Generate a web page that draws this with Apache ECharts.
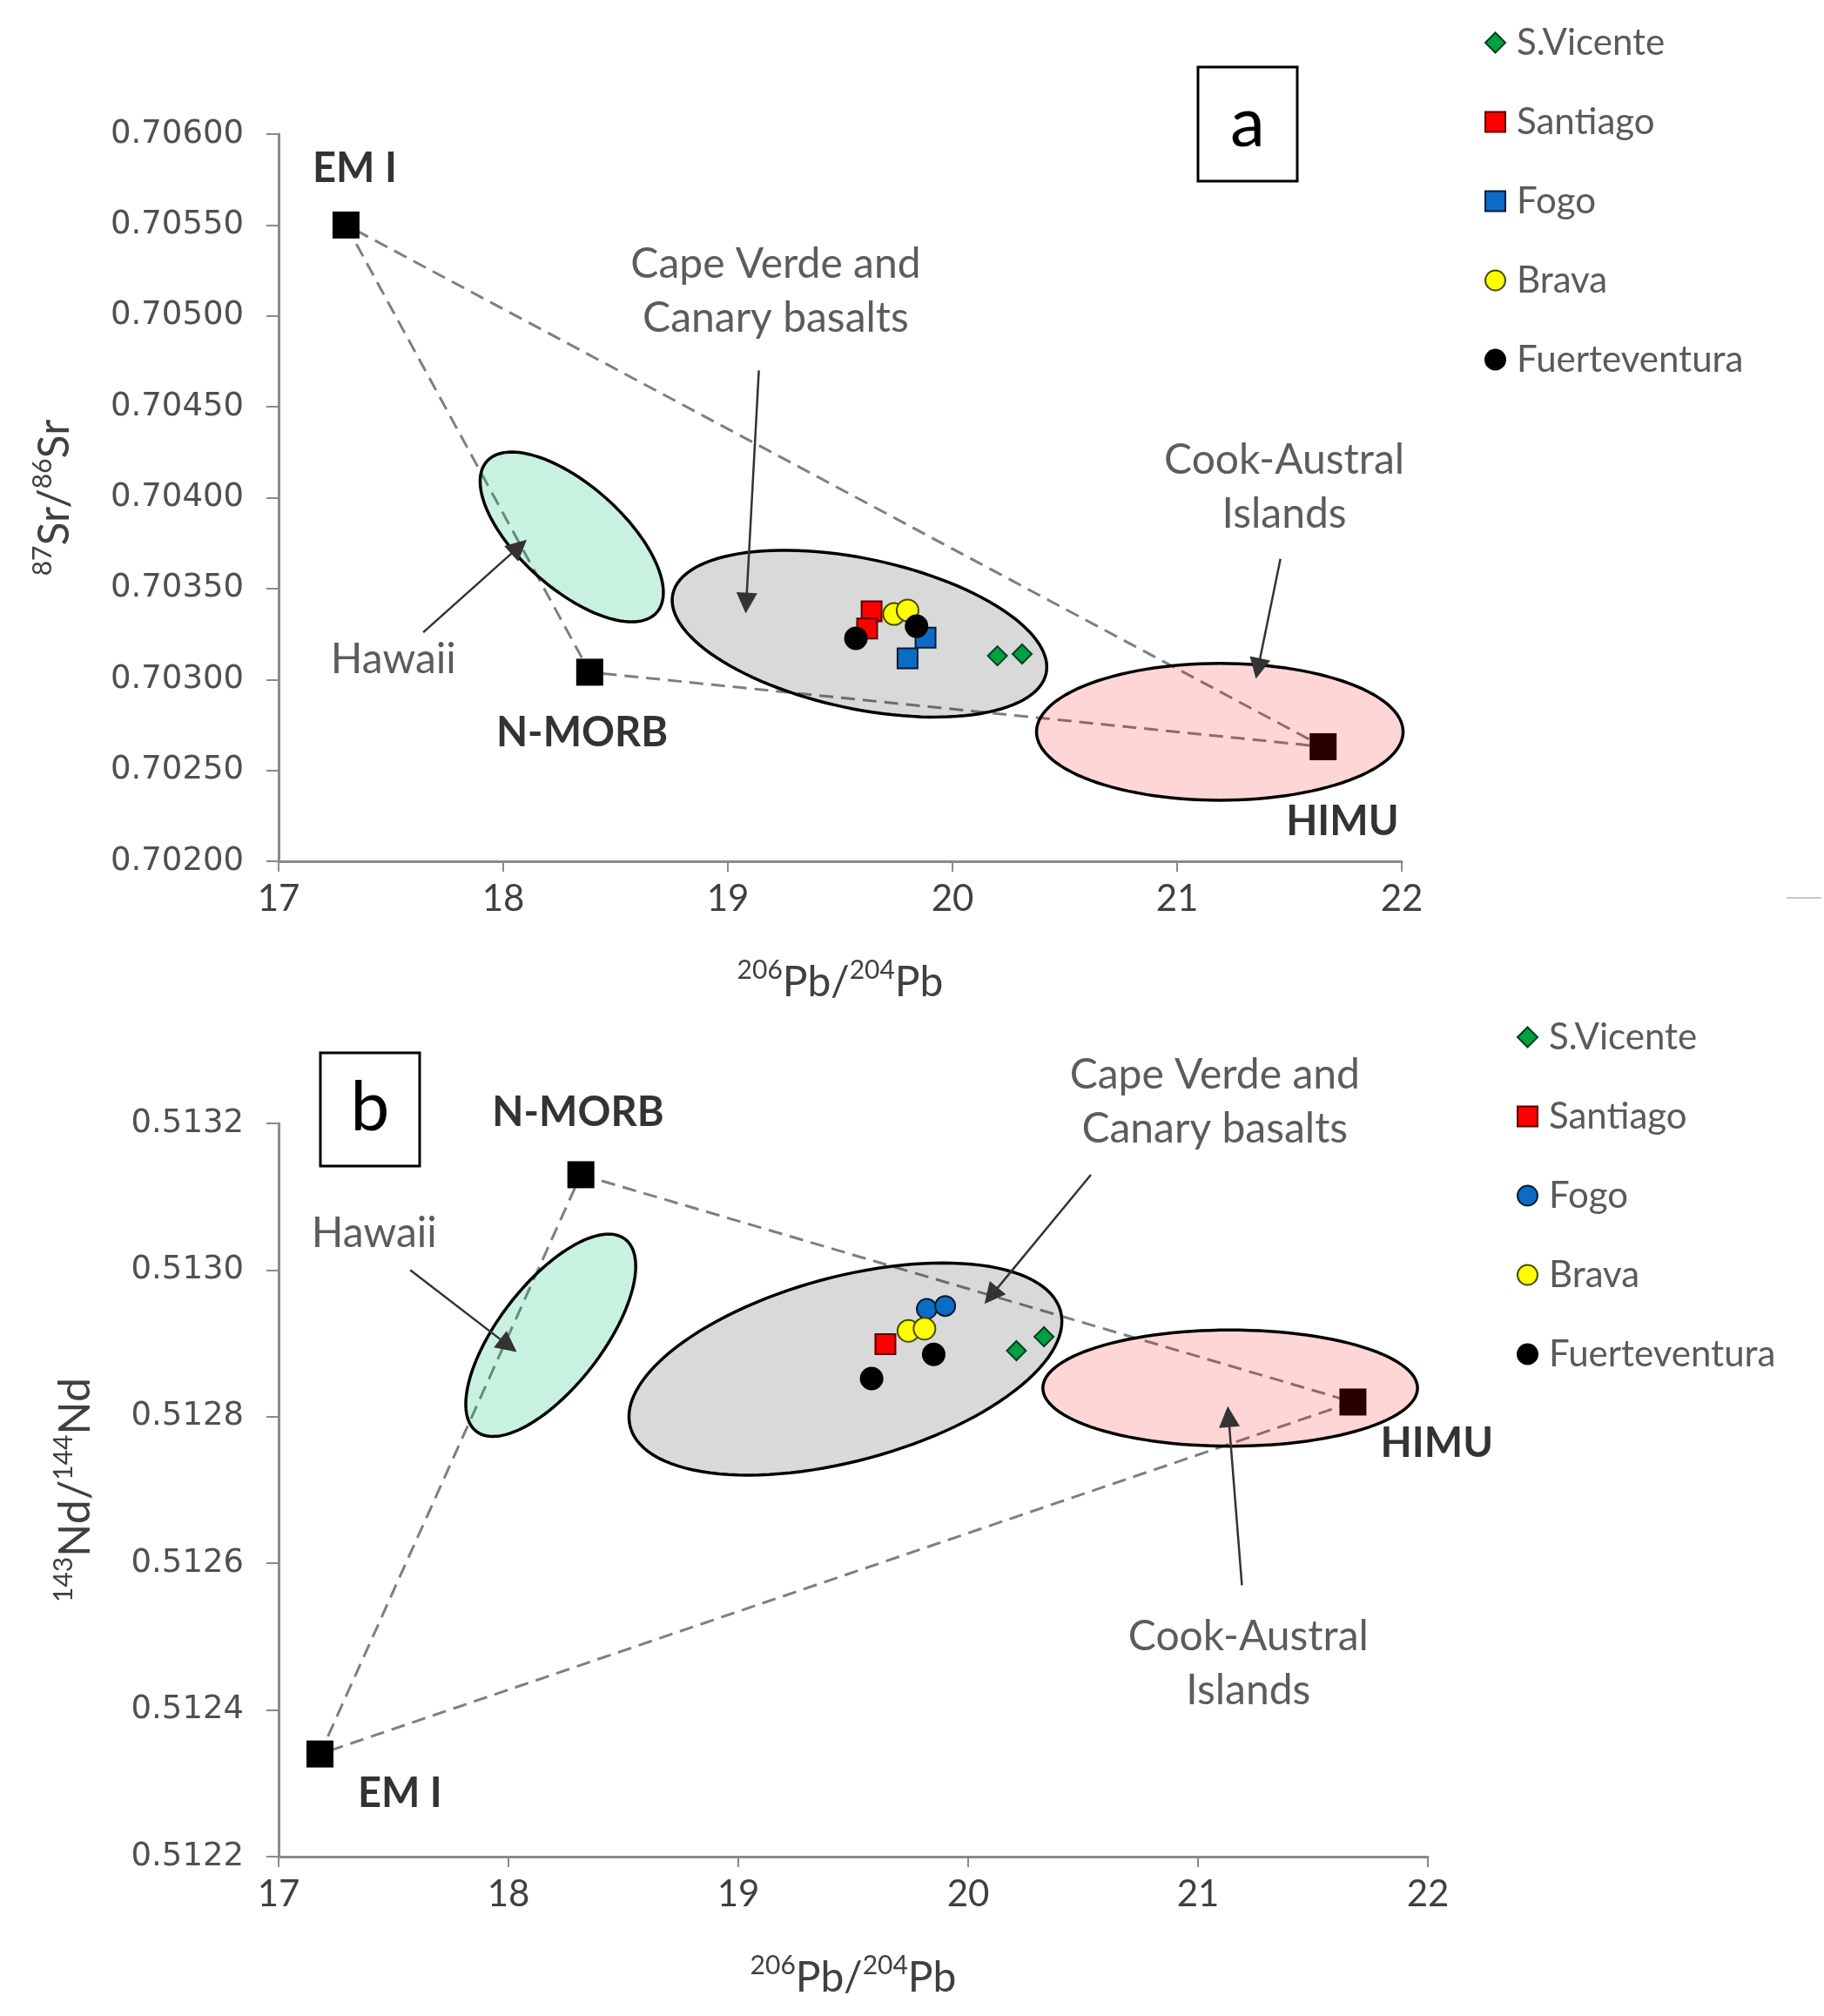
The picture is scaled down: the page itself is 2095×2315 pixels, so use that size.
<!DOCTYPE html>
<html><head><meta charset="utf-8">
<script src="https://cdn.jsdelivr.net/npm/echarts@6/dist/echarts.min.js"></script>
<style>html,body{margin:0;padding:0;background:#fff}#c{width:2095px;height:2315px}</style>
</head><body><div id="c"></div>
<script>
// ---------- axis ranges ----------
const pbRange = [17, 22];           const pbStep = 1;
const srRange = [0.702, 0.706];     const srStep = 0.0005;
const ndRange = [0.5122, 0.5132];   const ndStep = 0.0002;

const sampleNames = ['S.Vicente', 'Santiago', 'Fogo', 'Brava', 'Fuerteventura'];

// ---------- panel a: 87Sr/86Sr vs 206Pb/204Pb ----------
const srSVicente = [[20.20, 0.70313], [20.31, 0.70314]];
const srSantiago = [[19.64, 0.703375], [19.62, 0.70328]];
const srFogo = [[19.88, 0.70323], [19.80, 0.703116]];
const srBrava = [[19.74, 0.70336], [19.80, 0.70338]];
const srFuerteventura = [[19.57, 0.703226], [19.84, 0.703293]];
const srEndNames = ['EM I', 'N-MORB', 'HIMU'];
const srEndValues = [[17.30, 0.70550], [18.385, 0.70304], [21.65, 0.70263]];
// ellipse: [centerX, centerY, majorTipX, majorTipY, minor/major]
const srFields = [[18.305, 0.703784, 17.927, 0.704200, 0.455],
                  [19.586, 0.703252, 20.417, 0.703034, 0.393],
                  [21.190, 0.702712, 22.006, 0.702712, 0.373]];
const srBoldLabels = [['EM I', 17.339, 0.705808], ['N-MORB', 18.351, 0.702705], ['HIMU', 21.736, 0.702215]];
const srNotes = [['Cape Verde and\nCanary basalts', 19.213, 0.705134], ['Hawaii', 17.511, 0.703109], ['Cook-Austral\nIslands', 21.477, 0.704058]];
const srArrows = [[[19.138, 0.70470], [19.082, 0.70342]], [[17.644, 0.703259], [18.07, 0.70373]], [[21.46, 0.703663], [21.36, 0.70306]]];

// ---------- panel b: 143Nd/144Nd vs 206Pb/204Pb ----------
const ndSVicente = [[20.21, 0.51289], [20.33, 0.512909]];
const ndSantiago = [[19.64, 0.512899]];
const ndFogo = [[19.82, 0.512947], [19.90, 0.512951]];
const ndBrava = [[19.74, 0.512917], [19.81, 0.51292]];
const ndFuerteventura = [[19.85, 0.512885], [19.58, 0.512852]];
const ndEndNames = ['N-MORB', 'HIMU', 'EM I'];
const ndEndValues = [[18.315, 0.51313], [21.674, 0.51282], [17.18, 0.51234]];
const ndFields = [[18.184, 0.512911, 18.508, 0.513042, 0.426],
                  [19.466, 0.512865, 20.402, 0.512944, 0.413],
                  [21.140, 0.512839, 21.955, 0.512839, 0.31]];
const ndBoldLabels = [['N-MORB', 18.303, 0.513214], ['HIMU', 22.039, 0.512763], ['EM I', 17.528, 0.512286]];
const ndNotes = [['Hawaii', 17.416, 0.51305], ['Cape Verde and\nCanary basalts', 21.073, 0.513229], ['Cook-Austral\nIslands', 21.219, 0.512463]];
const ndArrows = [[[17.573, 0.513], [18.00, 0.512897]], [[20.534, 0.51313], [20.10, 0.512965]], [[21.191, 0.51257], [21.133, 0.512800]]];

// ---------- styles ----------
const fieldFills = ['rgba(0,190,111,0.216)', 'rgba(0,0,0,0.15)', 'rgba(255,0,0,0.16)'];
const markerStyle = {
  'S.Vicente': {color: '#00a043', border: '#00401c', symbol: 'diamond', size: 22},
  'Santiago': {color: '#ff0000', border: '#5a0000', symbol: 'rect', size: 23},
  'Fogo': {color: '#0a6cc4', border: '#0a1a33', symbol: 'rect', size: 23},
  'Brava': {color: '#ffff00', border: '#4a4a00', symbol: 'circle', size: 25},
  'Fuerteventura': {color: '#000000', border: '#000000', symbol: 'circle', size: 25}
};
const FONT = 'Lato, "Open Sans", sans-serif';

function sampleSeries(name, data, g, symbolOverride) {
  const st = markerStyle[name];
  return {
    type: 'scatter', name: name, xAxisIndex: g, yAxisIndex: g, z: 4,
    symbol: symbolOverride || st.symbol, symbolSize: st.size,
    itemStyle: {color: st.color, borderColor: st.border, borderWidth: 2, opacity: 1},
    data: data
  };
}
function fieldSeries(fields, g) {
  return {
    type: 'custom', name: 'fields' + g, xAxisIndex: g, yAxisIndex: g, z: 3,
    encode: {x: [0, 2], y: [1, 3]},
    data: fields,
    renderItem: function (params, api) {
      const c = api.coord([api.value(0), api.value(1)]);
      const t = api.coord([api.value(2), api.value(3)]);
      const dx = t[0] - c[0], dy = t[1] - c[1];
      const a = Math.sqrt(dx * dx + dy * dy);
      const ux = dx / a, uy = dy / a;
      const b = a * api.value(4);
      const pts = [];
      for (let k = 0; k < 120; k++) {
        const f = k / 120 * Math.PI * 2;
        const ca = Math.cos(f) * a, sb = Math.sin(f) * b;
        pts.push([c[0] + ca * ux - sb * uy, c[1] + ca * uy + sb * ux]);
      }
      return {type: 'polygon', shape: {points: pts},
        style: {fill: fieldFills[params.dataIndex], stroke: '#000', lineWidth: 3.5}};
    }
  };
}
function mixingSeries(values, g) {
  return {
    type: 'line', name: 'mix' + g, xAxisIndex: g, yAxisIndex: g, z: 1,
    symbol: 'none', silent: true,
    lineStyle: {color: '#7f7f7f', width: 3, type: [16, 9]},
    data: values.concat([values[0]])
  };
}
function endSeries(names, values, g) {
  return {
    type: 'scatter', name: 'end' + g, xAxisIndex: g, yAxisIndex: g, z: 2,
    symbol: 'rect', symbolSize: 31, itemStyle: {color: '#000', opacity: 1},
    data: values.map((v, i) => ({name: names[i], value: v}))
  };
}
function labelSeries(bold, notes, g) {
  const items = bold.map(d => ({name: d[0], value: [d[1], d[2]],
      label: {fontWeight: 'bold', fontSize: 47, color: '#000'}}))
    .concat(notes.map(d => ({name: d[0], value: [d[1], d[2]],
      label: {fontSize: 48, lineHeight: 62, color: '#333'}})));
  return {
    type: 'scatter', name: 'labels' + g, xAxisIndex: g, yAxisIndex: g, z: 6,
    clip: false, silent: true, symbolSize: 1, itemStyle: {color: 'rgba(0,0,0,0)'},
    label: {show: true, position: 'inside', formatter: '{b}', fontFamily: FONT, align: 'center'},
    data: items
  };
}
function arrowSeries(arrows, g) {
  return {
    type: 'line', name: 'arrows' + g, xAxisIndex: g, yAxisIndex: g, z: 6,
    data: [], symbol: 'none', silent: true,
    itemStyle: {color: '#111'}, lineStyle: {color: '#333'},
    markLine: {
      silent: true, animation: false, z: 6, precision: 6,
      symbol: ['none', 'triangle'], symbolSize: 24,
      itemStyle: {color: '#111'},
      lineStyle: {color: '#333', width: 2.5, type: 'solid'},
      label: {show: false},
      emphasis: {disabled: true},
      data: arrows.map(a => [{coord: a[0], symbol: 'none'}, {coord: a[1], symbol: 'triangle', symbolSize: 24}])
    }
  };
}
function xAxisDef(g) {
  return {
    type: 'value', gridIndex: g, min: pbRange[0], max: pbRange[1], interval: pbStep,
    splitLine: {show: false},
    axisLine: {lineStyle: {color: '#8a8a8a', width: 3}},
    axisTick: {length: 12, lineStyle: {color: '#8a8a8a', width: 2}},
    axisLabel: {fontFamily: FONT, fontSize: 42, color: '#404040', margin: 22},
    name: '{sup|206}{b|Pb/}{sup|204}{b|Pb}', nameLocation: 'middle', nameGap: 110,
    nameTextStyle: {rich: {
      sup: {fontFamily: FONT, fontSize: 30, color: '#404040', verticalAlign: 'top', lineHeight: 30},
      b: {fontFamily: FONT, fontSize: 48, color: '#404040', verticalAlign: 'bottom', lineHeight: 54}}}
  };
}
function yAxisDef(g, range, step, digits, nameHtml, gap) {
  return {
    type: 'value', gridIndex: g, min: range[0], max: range[1], interval: step,
    splitLine: {show: false},
    axisLine: {show: true, lineStyle: {color: '#8a8a8a', width: 3}},
    axisTick: {show: true, length: 14, lineStyle: {color: '#8a8a8a', width: 2}},
    axisLabel: {fontFamily: '"DejaVu Sans", Verdana, sans-serif', fontSize: 37, color: '#505050',
      margin: 40, formatter: v => v.toFixed(digits)},
    name: nameHtml, nameLocation: 'middle', nameGap: gap, nameRotate: 90,
    nameTextStyle: {rich: {
      sup: {fontFamily: FONT, fontSize: 30, color: '#404040', verticalAlign: 'top', lineHeight: 30},
      b: {fontFamily: FONT, fontSize: 50, color: '#404040', verticalAlign: 'bottom', lineHeight: 54}}}
  };
}
function legendDef(left, top, fogoIcon) {
  const icons = {'S.Vicente': 'diamond', 'Santiago': 'rect', 'Fogo': fogoIcon, 'Brava': 'circle', 'Fuerteventura': 'circle'};
  return {
    orient: 'vertical', left: left, top: top, padding: 0, itemGap: 47,
    itemWidth: 23, itemHeight: 23, selectedMode: false,
    textStyle: {fontFamily: FONT, fontSize: 42, lineHeight: 44, color: '#5a5a5a', padding: [0, 0, 0, 8]},
    data: sampleNames.map(n => ({name: n, icon: icons[n]}))
  };
}

const chart = echarts.init(document.getElementById('c'), null, {renderer: 'canvas'});
const series = [
  mixingSeries(srEndValues, 0), endSeries(srEndNames, srEndValues, 0), fieldSeries(srFields, 0),
  sampleSeries('S.Vicente', srSVicente, 0), sampleSeries('Santiago', srSantiago, 0),
  sampleSeries('Fogo', srFogo, 0), sampleSeries('Brava', srBrava, 0),
  sampleSeries('Fuerteventura', srFuerteventura, 0),
  labelSeries(srBoldLabels, srNotes, 0), arrowSeries(srArrows, 0),
  mixingSeries(ndEndValues, 1), endSeries(ndEndNames, ndEndValues, 1), fieldSeries(ndFields, 1),
  sampleSeries('S.Vicente', ndSVicente, 1), sampleSeries('Santiago', ndSantiago, 1, 'rect'),
  sampleSeries('Fogo', ndFogo, 1, 'circle'), sampleSeries('Brava', ndBrava, 1),
  sampleSeries('Fuerteventura', ndFuerteventura, 1),
  labelSeries(ndBoldLabels, ndNotes, 1), arrowSeries(ndArrows, 1)
];
chart.setOption({
  animation: false,
  backgroundColor: '#fff',
  textStyle: {fontFamily: FONT},
  grid: [
    {left: 320, top: 154, width: 1290, height: 835},
    {left: 320, top: 1290, width: 1320, height: 842}
  ],
  xAxis: [xAxisDef(0), xAxisDef(1)],
  yAxis: [
    yAxisDef(0, srRange, srStep, 5, '{sup|87}{b|Sr/}{sup|86}{b|Sr}', 232),
    yAxisDef(1, ndRange, ndStep, 4, '{sup|143}{b|Nd/}{sup|144}{b|Nd}', 208)
  ],
  legend: [legendDef(1705, 27, 'rect'), legendDef(1742, 1169, 'circle')],
  graphic: [
    {type: 'rect', shape: {x: 1376, y: 77, width: 114, height: 131}, style: {fill: '#fff', stroke: '#000', lineWidth: 3}, z: 10},
    {type: 'text', x: 1433, y: 142, style: {text: 'a', font: '80px Lato', fill: '#000', align: 'center', verticalAlign: 'middle', textAlign: 'center', textVerticalAlign: 'middle'}, z: 11},
    {type: 'rect', shape: {x: 368, y: 1209, width: 114, height: 130}, style: {fill: '#fff', stroke: '#000', lineWidth: 3}, z: 10},
    {type: 'text', x: 425, y: 1272, style: {text: 'b', font: '80px Lato', fill: '#000', align: 'center', verticalAlign: 'middle', textAlign: 'center', textVerticalAlign: 'middle'}, z: 11},
    {type: 'line', shape: {x1: 2052, y1: 1031, x2: 2092, y2: 1031}, style: {stroke: '#c8c8c8', lineWidth: 2}}
  ],
  series: series
});
</script></body></html>
